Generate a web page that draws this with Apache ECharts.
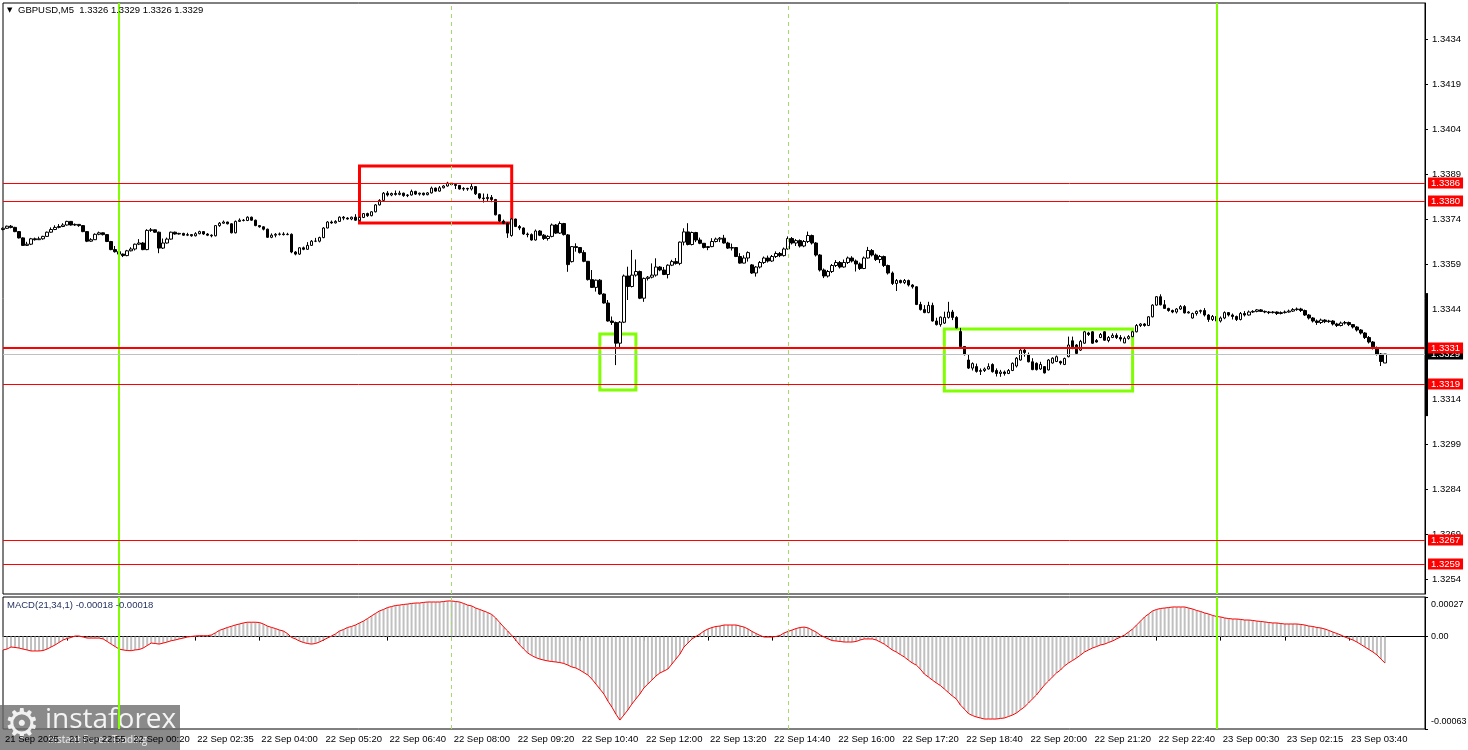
<!DOCTYPE html>
<html><head><meta charset="utf-8">
<script src="https://cdn.jsdelivr.net/npm/echarts@6/dist/echarts.min.js"></script>
<style>html,body{margin:0;padding:0;background:#fff}#c{width:1468px;height:750px}</style>
</head><body><div id="c"></div>
<script>
const FONT = '"Liberation Sans", Arial, sans-serif';
const timeLabels = ["21 Sep 2025","21 Sep 22:55","22 Sep 00:20","22 Sep 02:35","22 Sep 04:00","22 Sep 05:20","22 Sep 06:40","22 Sep 08:00","22 Sep 09:20","22 Sep 10:40","22 Sep 12:00","22 Sep 13:20","22 Sep 14:40","22 Sep 16:00","22 Sep 17:20","22 Sep 18:40","22 Sep 20:00","22 Sep 21:20","22 Sep 22:40","23 Sep 00:30","23 Sep 02:15","23 Sep 03:40"];
const labelStep = 16;
const totalSlots = 356;
const priceTicks = [1.3254,1.3269,1.3284,1.3299,1.3314,1.3329,1.3344,1.3359,1.3374,1.3389,1.3404,1.3419,1.3434];
const macdTicks = [-0.00063, 0, 0.00027];
const levelLines = [1.3386, 1.3380, 1.3331, 1.3319, 1.3267, 1.3259];
const boldLevel = 1.3331;
const currentPrice = 1.3329;
const greenLineBars = [29, 303];
const separatorBars = [112, 196];
const zones = [
  {x0: 89, x1: 127, p0: 1.33917, p1: 1.33727, color: '#ff0000'},
  {x0: 149, x1: 158, p0: 1.33357, p1: 1.33170, color: '#80ff00'},
  {x0: 235, x1: 282, p0: 1.33373, p1: 1.33167, color: '#80ff00'}
];
const rangeBar = [1.33083, 1.33493];
// [open, close, low, high]
const candles = [
[1.33705,1.33709,1.33702,1.33712],[1.33709,1.33716,1.33707,1.33718],[1.33716,1.33712,1.33709,1.33720],[1.33712,1.33698,1.33696,1.33714],[1.33698,1.33677,1.33675,1.33700],
[1.33677,1.33652,1.33650,1.33679],[1.33652,1.33656,1.33650,1.33664],[1.33656,1.33674,1.33653,1.33677],[1.33674,1.33671,1.33668,1.33678],[1.33671,1.33674,1.33670,1.33681],
[1.33674,1.33682,1.33671,1.33684],[1.33682,1.33696,1.33680,1.33698],[1.33696,1.33705,1.33694,1.33712],[1.33705,1.33712,1.33703,1.33719],[1.33712,1.33715,1.33709,1.33723],
[1.33715,1.33720,1.33713,1.33726],[1.33720,1.33732,1.33718,1.33734],[1.33732,1.33720,1.33718,1.33733],[1.33720,1.33722,1.33717,1.33725],[1.33722,1.33718,1.33714,1.33723],
[1.33718,1.33698,1.33696,1.33720],[1.33698,1.33666,1.33663,1.33700],[1.33666,1.33671,1.33664,1.33676],[1.33671,1.33689,1.33670,1.33692],[1.33689,1.33694,1.33686,1.33698],
[1.33694,1.33688,1.33685,1.33695],[1.33688,1.33665,1.33663,1.33690],[1.33665,1.33638,1.33636,1.33667],[1.33638,1.33631,1.33628,1.33650],[1.33631,1.33623,1.33620,1.33633],
[1.33623,1.33618,1.33613,1.33625],[1.33618,1.33634,1.33616,1.33637],[1.33634,1.33640,1.33632,1.33646],[1.33640,1.33656,1.33635,1.33658],[1.33656,1.33660,1.33653,1.33673],
[1.33660,1.33638,1.33636,1.33663],[1.33638,1.33702,1.33636,1.33706],[1.33702,1.33704,1.33697,1.33710],[1.33704,1.33696,1.33694,1.33705],[1.33696,1.33643,1.33626,1.33698],
[1.33643,1.33660,1.33640,1.33675],[1.33660,1.33673,1.33658,1.33678],[1.33673,1.33696,1.33671,1.33698],[1.33696,1.33690,1.33688,1.33698],[1.33690,1.33692,1.33688,1.33694],
[1.33692,1.33686,1.33684,1.33694],[1.33686,1.33688,1.33683,1.33694],[1.33688,1.33684,1.33681,1.33690],[1.33684,1.33691,1.33682,1.33696],[1.33691,1.33698,1.33689,1.33701],
[1.33698,1.33690,1.33687,1.33700],[1.33690,1.33686,1.33683,1.33693],[1.33686,1.33684,1.33679,1.33689],[1.33684,1.33718,1.33682,1.33720],[1.33718,1.33726,1.33714,1.33730],
[1.33726,1.33730,1.33724,1.33735],[1.33730,1.33724,1.33722,1.33731],[1.33724,1.33694,1.33692,1.33726],[1.33694,1.33732,1.33692,1.33735],[1.33732,1.33736,1.33730,1.33742],
[1.33736,1.33735,1.33732,1.33740],[1.33735,1.33746,1.33733,1.33749],[1.33746,1.33736,1.33734,1.33748],[1.33736,1.33718,1.33716,1.33738],[1.33718,1.33714,1.33711,1.33720],
[1.33714,1.33706,1.33702,1.33716],[1.33706,1.33679,1.33677,1.33708],[1.33679,1.33686,1.33676,1.33692],[1.33686,1.33689,1.33679,1.33693],[1.33689,1.33690,1.33685,1.33695],
[1.33690,1.33688,1.33685,1.33696],[1.33688,1.33689,1.33686,1.33694],[1.33689,1.33630,1.33626,1.33692],[1.33630,1.33623,1.33619,1.33633],[1.33623,1.33644,1.33620,1.33646],
[1.33644,1.33639,1.33636,1.33648],[1.33639,1.33652,1.33637,1.33663],[1.33652,1.33666,1.33650,1.33670],[1.33666,1.33666,1.33663,1.33677],[1.33666,1.33678,1.33662,1.33681],
[1.33678,1.33710,1.33676,1.33713],[1.33710,1.33730,1.33709,1.33733],[1.33730,1.33727,1.33724,1.33735],[1.33727,1.33732,1.33725,1.33736],[1.33732,1.33746,1.33730,1.33749],
[1.33746,1.33743,1.33736,1.33750],[1.33743,1.33740,1.33738,1.33746],[1.33740,1.33746,1.33736,1.33748],[1.33746,1.33736,1.33734,1.33756],[1.33736,1.33745,1.33733,1.33748],
[1.33745,1.33758,1.33743,1.33760],[1.33758,1.33751,1.33747,1.33761],[1.33751,1.33764,1.33749,1.33766],[1.33764,1.33787,1.33762,1.33790],[1.33787,1.33802,1.33785,1.33806],
[1.33802,1.33826,1.33800,1.33830],[1.33826,1.33820,1.33815,1.33833],[1.33820,1.33825,1.33816,1.33828],[1.33825,1.33822,1.33818,1.33835],[1.33822,1.33826,1.33819,1.33834],
[1.33826,1.33818,1.33814,1.33828],[1.33818,1.33820,1.33813,1.33823],[1.33820,1.33832,1.33818,1.33838],[1.33832,1.33823,1.33820,1.33834],[1.33823,1.33826,1.33818,1.33828],
[1.33826,1.33821,1.33818,1.33828],[1.33821,1.33827,1.33819,1.33830],[1.33827,1.33843,1.33825,1.33848],[1.33843,1.33833,1.33831,1.33845],[1.33833,1.33844,1.33831,1.33850],
[1.33844,1.33850,1.33842,1.33853],[1.33850,1.33860,1.33848,1.33864],[1.33860,1.33855,1.33852,1.33863],[1.33855,1.33852,1.33840,1.33858],[1.33852,1.33840,1.33838,1.33853],
[1.33840,1.33842,1.33834,1.33846],[1.33842,1.33840,1.33834,1.33844],[1.33840,1.33848,1.33835,1.33860],[1.33848,1.33824,1.33820,1.33850],[1.33824,1.33810,1.33806,1.33826],
[1.33810,1.33808,1.33795,1.33825],[1.33808,1.33812,1.33798,1.33824],[1.33812,1.33805,1.33796,1.33820],[1.33805,1.33754,1.33752,1.33807],[1.33754,1.33733,1.33730,1.33756],
[1.33733,1.33726,1.33723,1.33738],[1.33726,1.33693,1.33677,1.33728],[1.33685,1.33740,1.33681,1.33743],[1.33740,1.33715,1.33713,1.33741],[1.33715,1.33710,1.33703,1.33720],
[1.33710,1.33690,1.33687,1.33712],[1.33690,1.33688,1.33679,1.33695],[1.33688,1.33670,1.33668,1.33692],[1.33670,1.33700,1.33668,1.33705],[1.33700,1.33686,1.33683,1.33703],
[1.33686,1.33675,1.33670,1.33690],[1.33675,1.33682,1.33668,1.33686],[1.33682,1.33720,1.33679,1.33725],[1.33720,1.33693,1.33690,1.33723],[1.33693,1.33725,1.33690,1.33732],
[1.33725,1.33688,1.33685,1.33727],[1.33687,1.33588,1.33564,1.33690],[1.33598,1.33648,1.33595,1.33650],[1.33648,1.33645,1.33631,1.33659],[1.33645,1.33628,1.33625,1.33646],
[1.33628,1.33599,1.33596,1.33636],[1.33599,1.33538,1.33535,1.33600],[1.33538,1.33512,1.33510,1.33570],[1.33512,1.33536,1.33498,1.33538],[1.33536,1.33490,1.33487,1.33540],
[1.33490,1.33460,1.33458,1.33492],[1.33460,1.33400,1.33398,1.33470],[1.33400,1.33395,1.33387,1.33415],[1.33395,1.33326,1.33253,1.33398],[1.33326,1.33396,1.33309,1.33400],
[1.33396,1.33550,1.33393,1.33555],[1.33550,1.33515,1.33470,1.33581],[1.33515,1.33553,1.33512,1.33637],[1.33553,1.33565,1.33548,1.33605],[1.33565,1.33476,1.33473,1.33568],
[1.33476,1.33542,1.33464,1.33545],[1.33542,1.33546,1.33535,1.33550],[1.33546,1.33553,1.33542,1.33592],[1.33553,1.33580,1.33548,1.33609],[1.33580,1.33570,1.33566,1.33583],
[1.33570,1.33555,1.33553,1.33580],[1.33555,1.33586,1.33542,1.33589],[1.33586,1.33598,1.33583,1.33604],[1.33598,1.33592,1.33588,1.33610],[1.33592,1.33663,1.33586,1.33665],
[1.33663,1.33697,1.33652,1.33709],[1.33697,1.33655,1.33652,1.33726],[1.33655,1.33695,1.33652,1.33698],[1.33695,1.33670,1.33663,1.33697],[1.33670,1.33659,1.33656,1.33678],
[1.33659,1.33645,1.33642,1.33660],[1.33645,1.33648,1.33636,1.33650],[1.33648,1.33665,1.33646,1.33676],[1.33665,1.33673,1.33662,1.33678],[1.33673,1.33676,1.33663,1.33680],
[1.33676,1.33660,1.33658,1.33687],[1.33660,1.33643,1.33640,1.33664],[1.33643,1.33645,1.33635,1.33658],[1.33645,1.33615,1.33613,1.33646],[1.33615,1.33593,1.33591,1.33626],
[1.33593,1.33610,1.33592,1.33619],[1.33610,1.33628,1.33598,1.33632],[1.33587,1.33560,1.33557,1.33590],[1.33560,1.33580,1.33548,1.33583],[1.33580,1.33595,1.33575,1.33600],
[1.33595,1.33610,1.33590,1.33615],[1.33610,1.33600,1.33595,1.33618],[1.33600,1.33615,1.33597,1.33620],[1.33615,1.33625,1.33610,1.33632],[1.33625,1.33618,1.33613,1.33630],
[1.33618,1.33640,1.33615,1.33645],[1.33640,1.33675,1.33638,1.33682],[1.33675,1.33660,1.33655,1.33680],[1.33660,1.33668,1.33650,1.33673],[1.33668,1.33650,1.33645,1.33672],
[1.33650,1.33665,1.33646,1.33670],[1.33665,1.33685,1.33660,1.33698],[1.33685,1.33660,1.33655,1.33688],[1.33660,1.33620,1.33615,1.33663],[1.33620,1.33570,1.33565,1.33623],
[1.33570,1.33550,1.33543,1.33575],[1.33550,1.33565,1.33545,1.33570],[1.33565,1.33585,1.33560,1.33590],[1.33585,1.33595,1.33580,1.33603],[1.33595,1.33580,1.33575,1.33600],
[1.33580,1.33595,1.33578,1.33605],[1.33595,1.33610,1.33590,1.33615],[1.33610,1.33600,1.33595,1.33616],[1.33600,1.33590,1.33565,1.33605],[1.33590,1.33575,1.33570,1.33595],
[1.33575,1.33610,1.33573,1.33615],[1.33610,1.33635,1.33608,1.33647],[1.33635,1.33620,1.33615,1.33640],[1.33620,1.33605,1.33600,1.33625],[1.33605,1.33615,1.33593,1.33620],
[1.33615,1.33585,1.33580,1.33618],[1.33585,1.33560,1.33555,1.33588],[1.33560,1.33525,1.33520,1.33565],[1.33525,1.33535,1.33500,1.33540],[1.33535,1.33528,1.33525,1.33538],
[1.33528,1.33535,1.33523,1.33540],[1.33535,1.33520,1.33515,1.33538],[1.33520,1.33514,1.33508,1.33523],[1.33514,1.33455,1.33453,1.33516],[1.33455,1.33438,1.33435,1.33464],
[1.33438,1.33428,1.33426,1.33453],[1.33428,1.33452,1.33426,1.33464],[1.33452,1.33400,1.33398,1.33461],[1.33400,1.33388,1.33385,1.33411],[1.33388,1.33413,1.33381,1.33415],
[1.33393,1.33412,1.33390,1.33431],[1.33412,1.33430,1.33408,1.33464],[1.33430,1.33412,1.33403,1.33437],[1.33412,1.33377,1.33375,1.33416],[1.33365,1.33315,1.33313,1.33377],
[1.33315,1.33288,1.33285,1.33316],[1.33270,1.33243,1.33240,1.33288],[1.33243,1.33258,1.33235,1.33262],[1.33248,1.33232,1.33228,1.33258],[1.33232,1.33235,1.33220,1.33242],
[1.33235,1.33240,1.33230,1.33245],[1.33240,1.33248,1.33238,1.33259],[1.33255,1.33231,1.33228,1.33259],[1.33235,1.33225,1.33215,1.33242],[1.33225,1.33230,1.33214,1.33237],
[1.33230,1.33225,1.33218,1.33235],[1.33225,1.33235,1.33223,1.33240],[1.33235,1.33259,1.33233,1.33262],[1.33250,1.33276,1.33245,1.33280],[1.33270,1.33303,1.33268,1.33306],
[1.33303,1.33295,1.33281,1.33308],[1.33287,1.33264,1.33262,1.33295],[1.33264,1.33238,1.33236,1.33276],[1.33259,1.33238,1.33235,1.33262],[1.33240,1.33255,1.33237,1.33264],
[1.33248,1.33227,1.33225,1.33250],[1.33237,1.33270,1.33235,1.33273],[1.33260,1.33276,1.33258,1.33279],[1.33265,1.33281,1.33263,1.33285],[1.33265,1.33260,1.33254,1.33268],
[1.33255,1.33275,1.33253,1.33278],[1.33281,1.33320,1.33279,1.33348],[1.33334,1.33312,1.33306,1.33348],[1.33320,1.33292,1.33290,1.33323],[1.33303,1.33332,1.33300,1.33337],
[1.33326,1.33364,1.33324,1.33367],[1.33360,1.33355,1.33350,1.33364],[1.33364,1.33326,1.33324,1.33366],[1.33335,1.33330,1.33328,1.33340],[1.33345,1.33355,1.33343,1.33360],
[1.33364,1.33336,1.33334,1.33366],[1.33335,1.33345,1.33329,1.33350],[1.33345,1.33352,1.33343,1.33359],[1.33352,1.33345,1.33340,1.33359],[1.33345,1.33340,1.33332,1.33353],
[1.33327,1.33342,1.33326,1.33348],[1.33342,1.33348,1.33338,1.33353],[1.33348,1.33364,1.33346,1.33367],[1.33364,1.33385,1.33362,1.33390],[1.33385,1.33390,1.33380,1.33393],
[1.33390,1.33385,1.33381,1.33393],[1.33385,1.33414,1.33383,1.33416],[1.33414,1.33453,1.33412,1.33456],[1.33453,1.33481,1.33451,1.33483],[1.33481,1.33454,1.33452,1.33489],
[1.33454,1.33442,1.33440,1.33470],[1.33442,1.33435,1.33431,1.33444],[1.33435,1.33430,1.33426,1.33438],[1.33430,1.33440,1.33425,1.33443],[1.33440,1.33448,1.33437,1.33453],
[1.33448,1.33427,1.33425,1.33453],[1.33427,1.33430,1.33425,1.33433],[1.33410,1.33425,1.33408,1.33428],[1.33425,1.33432,1.33418,1.33435],[1.33432,1.33435,1.33425,1.33438],
[1.33435,1.33420,1.33415,1.33443],[1.33420,1.33405,1.33397,1.33423],[1.33405,1.33415,1.33400,1.33420],[1.33415,1.33400,1.33387,1.33418],[1.33400,1.33410,1.33395,1.33415],
[1.33410,1.33428,1.33406,1.33432],[1.33428,1.33420,1.33415,1.33430],[1.33420,1.33415,1.33405,1.33425],[1.33415,1.33405,1.33400,1.33418],[1.33405,1.33425,1.33402,1.33430],
[1.33425,1.33420,1.33415,1.33433],[1.33420,1.33430,1.33418,1.33435],[1.33430,1.33432,1.33427,1.33436],[1.33432,1.33437,1.33429,1.33440],[1.33437,1.33432,1.33430,1.33440],
[1.33432,1.33430,1.33426,1.33435],[1.33430,1.33428,1.33423,1.33433],[1.33428,1.33430,1.33425,1.33433],[1.33430,1.33425,1.33420,1.33432],[1.33425,1.33428,1.33422,1.33432],
[1.33428,1.33430,1.33425,1.33435],[1.33430,1.33433,1.33428,1.33438],[1.33433,1.33438,1.33430,1.33443],[1.33438,1.33440,1.33434,1.33445],[1.33440,1.33435,1.33430,1.33444],
[1.33435,1.33420,1.33417,1.33438],[1.33420,1.33410,1.33405,1.33423],[1.33410,1.33400,1.33395,1.33413],[1.33400,1.33395,1.33387,1.33405],[1.33395,1.33403,1.33390,1.33408],
[1.33403,1.33398,1.33393,1.33406],[1.33398,1.33400,1.33394,1.33404],[1.33400,1.33390,1.33385,1.33403],[1.33390,1.33385,1.33380,1.33394],[1.33385,1.33393,1.33382,1.33398],
[1.33393,1.33395,1.33388,1.33400],[1.33395,1.33388,1.33383,1.33398],[1.33388,1.33380,1.33375,1.33390],[1.33380,1.33370,1.33365,1.33383],[1.33370,1.33360,1.33355,1.33373],
[1.33360,1.33345,1.33340,1.33363],[1.33345,1.33330,1.33325,1.33350],[1.33330,1.33310,1.33305,1.33333],[1.33310,1.33290,1.33285,1.33315],[1.33290,1.33265,1.33250,1.33293],
[1.33260,1.33290,1.33260,1.33290]
];
const macd = [
-9.1e-5,-8.5e-5,-7.1e-5,-7.4e-5,-7.8e-5,-8.5e-5,-9.1e-5,-9.8e-5,-9.8e-5,-9.8e-5,
-9.5e-5,-8.5e-5,-7.1e-5,-5.7e-5,-4.0e-5,-2.3e-5,-1.3e-5,-0.6e-5,0.4e-5,0.4e-5,
-0.3e-5,-1.0e-5,-1.0e-5,-1.0e-5,-1.0e-5,-1.6e-5,-3.3e-5,-5.1e-5,-6.8e-5,-8.5e-5,
-9.1e-5,-9.5e-5,-9.6e-5,-9.1e-5,-8.8e-5,-7.8e-5,-6.1e-5,-4.4e-5,-4.7e-5,-5.1e-5,
-4.4e-5,-3.7e-5,-2.8e-5,-2.3e-5,-1.6e-5,-1.0e-5,-0.3e-5,0.1e-5,0.4e-5,0.6e-5,
0.6e-5,0.6e-5,1.1e-5,2.5e-5,4.2e-5,5.2e-5,6.2e-5,7.0e-5,7.9e-5,8.6e-5,
9.3e-5,9.8e-5,9.8e-5,9.8e-5,9.6e-5,8.6e-5,7.2e-5,6.3e-5,5.5e-5,4.5e-5,
3.8e-5,2.1e-5,-0.5e-5,-1.6e-5,-3.0e-5,-4.0e-5,-4.7e-5,-5.1e-5,-4.7e-5,-3.7e-5,
-2.3e-5,-1.0e-5,0.4e-5,1.8e-5,3.8e-5,4.8e-5,6.2e-5,6.9e-5,7.9e-5,9.3e-5,
10.6e-5,12.3e-5,14.1e-5,15.8e-5,17.5e-5,18.5e-5,19.8e-5,20.5e-5,21.2e-5,21.5e-5,
21.9e-5,22.2e-5,22.6e-5,22.9e-5,22.9e-5,23.3e-5,23.6e-5,23.6e-5,23.6e-5,23.6e-5,
23.9e-5,24.3e-5,24.3e-5,23.9e-5,23.6e-5,22.6e-5,21.5e-5,20.9e-5,19.5e-5,18.5e-5,
17.5e-5,16.4e-5,15.1e-5,12.7e-5,9.6e-5,6.5e-5,3.8e-5,0.8e-5,-2.3e-5,-5.7e-5,
-8.5e-5,-11.2e-5,-12.9e-5,-14.3e-5,-15.3e-5,-16.0e-5,-16.6e-5,-17.0e-5,-17.3e-5,-17.7e-5,
-18.3e-5,-19.4e-5,-20.7e-5,-21.4e-5,-22.8e-5,-24.5e-5,-26.2e-5,-28.9e-5,-32.3e-5,-35.7e-5,
-39.1e-5,-43.9e-5,-48.0e-5,-52.8e-5,-56.9e-5,-53.5e-5,-50.0e-5,-46.0e-5,-42.5e-5,-39.1e-5,
-35.0e-5,-32.3e-5,-29.6e-5,-26.9e-5,-24.8e-5,-23.5e-5,-22.1e-5,-18.7e-5,-15.3e-5,-11.9e-5,
-7.1e-5,-4.4e-5,-1.6e-5,0.1e-5,1.8e-5,3.8e-5,5.2e-5,6.2e-5,6.9e-5,7.2e-5,
7.9e-5,7.9e-5,7.9e-5,7.9e-5,7.2e-5,6.5e-5,5.2e-5,3.5e-5,2.1e-5,0.8e-5,
-0.3e-5,-0.3e-5,-0.3e-5,0.1e-5,0.8e-5,2.5e-5,3.5e-5,4.5e-5,5.5e-5,6.2e-5,
6.5e-5,5.9e-5,4.5e-5,3.1e-5,1.1e-5,-0.3e-5,-1.6e-5,-2.7e-5,-3.0e-5,-3.3e-5,
-3.7e-5,-3.7e-5,-3.7e-5,-3.3e-5,-2.3e-5,-1.6e-5,-1.6e-5,-1.6e-5,-2.3e-5,-3.7e-5,
-5.1e-5,-7.1e-5,-9.1e-5,-10.5e-5,-12.2e-5,-13.9e-5,-16.0e-5,-18.0e-5,-19.4e-5,-22.1e-5,
-25.5e-5,-27.5e-5,-29.6e-5,-31.6e-5,-33.3e-5,-35.7e-5,-38.1e-5,-40.5e-5,-42.5e-5,-46.6e-5,
-49.4e-5,-52.4e-5,-53.8e-5,-54.8e-5,-55.5e-5,-56.2e-5,-56.2e-5,-56.2e-5,-56.2e-5,-55.8e-5,
-55.5e-5,-54.5e-5,-53.5e-5,-52.1e-5,-50.0e-5,-48.0e-5,-45.3e-5,-42.5e-5,-39.8e-5,-36.4e-5,
-33.0e-5,-30.3e-5,-27.5e-5,-24.8e-5,-22.8e-5,-20.0e-5,-18.0e-5,-16.3e-5,-14.6e-5,-12.6e-5,
-10.5e-5,-9.1e-5,-7.8e-5,-6.8e-5,-5.7e-5,-5.1e-5,-4.0e-5,-3.0e-5,-1.6e-5,-0.3e-5,
1.1e-5,3.1e-5,5.2e-5,7.9e-5,10.6e-5,13.4e-5,15.4e-5,17.5e-5,18.5e-5,19.2e-5,
19.5e-5,19.8e-5,20.2e-5,20.2e-5,20.2e-5,20.2e-5,19.5e-5,18.8e-5,17.8e-5,17.1e-5,
16.1e-5,15.4e-5,14.4e-5,13.7e-5,13.4e-5,12.7e-5,12.3e-5,12.0e-5,12.0e-5,11.7e-5,
11.3e-5,11.3e-5,11.0e-5,10.6e-5,10.3e-5,10.0e-5,9.6e-5,9.3e-5,9.3e-5,8.9e-5,
8.6e-5,8.6e-5,8.6e-5,8.6e-5,8.3e-5,7.9e-5,7.2e-5,6.9e-5,6.2e-5,5.9e-5,
5.2e-5,4.2e-5,3.1e-5,2.1e-5,1.1e-5,-0.3e-5,-1.3e-5,-2.3e-5,-3.7e-5,-5.4e-5,
-7.1e-5,-8.8e-5,-10.5e-5,-12.5e-5,-15.3e-5,-18.0e-5
];

const cats = Array.from({length: totalSlots}, (_, i) => String(i));
const showLabel = (i) => i % labelStep === 0 && (i / labelStep) < timeLabels.length;

const boxLabel = (txt, bg) => ({
  show: true, position: 'end', formatter: txt, distance: 3,
  color: '#fff', backgroundColor: bg, padding: [1, 3, 0, 3],
  fontSize: 9.5, fontFamily: FONT
});

const vLines = [
  ...greenLineBars.map(b => ({xAxis: String(b), lineStyle: {color: '#80ff00', width: 2, type: 'solid'}, label: {show: false}})),
  ...separatorBars.map(b => ({xAxis: String(b), lineStyle: {color: '#a6d96a', width: 1, type: [4, 4]}, label: {show: false}}))
];

const hLines = [
  {yAxis: currentPrice, lineStyle: {color: '#c0c0c0', width: 1, type: 'solid'}, label: boxLabel(currentPrice.toFixed(4), '#000')},
  ...levelLines.map(v => ({yAxis: v, lineStyle: {color: '#ff0000', width: v === boldLevel ? 2 : 1, type: 'solid'}, label: boxLabel(v.toFixed(4), '#ff0000')}))
];

const option = {
  animation: false,
  backgroundColor: '#fff',
  textStyle: {fontFamily: FONT},
  grid: [
    {left: 3, right: 43, top: 3, height: 591, show: true, borderColor: '#000', borderWidth: 1, backgroundColor: '#fff', outerBoundsMode: 'none', containLabel: false},
    {left: 3, right: 43, top: 597, height: 132, show: true, borderColor: '#000', borderWidth: 1, backgroundColor: '#fff', outerBoundsMode: 'none', containLabel: false}
  ],
  xAxis: [
    {type: 'category', gridIndex: 0, data: cats, boundaryGap: false, show: false},
    {type: 'category', gridIndex: 1, data: cats, boundaryGap: false,
     axisLine: {show: true, lineStyle: {color: '#000', width: 1}},
     axisTick: {show: true, interval: showLabel, length: 4, lineStyle: {color: '#000'}},
     axisLabel: {show: true, interval: showLabel, align: 'left', margin: 5, color: '#000', fontSize: 9.5, fontFamily: FONT,
       padding: [0, 0, 0, 2],
       formatter: (v, idx) => timeLabels[idx / labelStep] || ''},
     splitLine: {show: false}}
  ],
  yAxis: [
    {type: 'value', gridIndex: 0, position: 'right', min: 1.3249, max: 1.3446,
     axisLine: {show: true, lineStyle: {color: '#000'}},
     axisTick: {show: true, customValues: priceTicks, length: 3, lineStyle: {color: '#000'}},
     axisLabel: {show: true, customValues: priceTicks, margin: 7, color: '#000', fontSize: 9.5, fontFamily: FONT, formatter: v => v.toFixed(4)},
     splitLine: {show: false}},
    {type: 'value', gridIndex: 1, position: 'right', min: -0.00063, max: 0.00027,
     axisLine: {show: true, lineStyle: {color: '#000'}},
     axisTick: {show: true, customValues: macdTicks, length: 3, lineStyle: {color: '#000'}},
     axisLabel: {show: true, customValues: macdTicks, margin: 6, color: '#000', fontSize: 9, fontFamily: FONT,
       formatter: v => v === 0 ? '{z|0.00}' : (v > 0 ? '{t|' + v.toFixed(5) + '}' : '{b|' + v.toFixed(5) + '}'),
       rich: {
         t: {padding: [16, 0, 0, 0], color: '#000', fontSize: 9, fontFamily: FONT},
         b: {padding: [0, 0, 15, 0], color: '#000', fontSize: 9, fontFamily: FONT},
         z: {color: '#000', fontSize: 9, fontFamily: FONT}
       }},
     splitLine: {show: false}}
  ],
  series: [
    {type: 'candlestick', name: 'GBPUSD', xAxisIndex: 0, yAxisIndex: 0, data: candles, barWidth: 3,
     itemStyle: {color: '#fff', color0: '#000', borderColor: '#000', borderColor0: '#000', borderColorDoji: '#000', borderWidth: 1},
     markLine: {silent: true, symbol: ['none', 'none'], precision: 6, animation: false, data: [...vLines, ...hLines]},
     markArea: {silent: true, animation: false,
       data: zones.map(z => [
         {xAxis: String(z.x0), yAxis: z.p0, itemStyle: {color: 'rgba(0,0,0,0)', borderColor: z.color, borderWidth: 3}},
         {xAxis: String(z.x1), yAxis: z.p1}
       ])}
    },
    {type: 'bar', name: 'MACD', xAxisIndex: 1, yAxisIndex: 1, data: macd, barWidth: 2,
     itemStyle: {color: '#c0c0c0'},
     markLine: {silent: true, symbol: ['none', 'none'], precision: 6, animation: false, data: vLines}},
    {type: 'line', name: 'Signal', xAxisIndex: 1, yAxisIndex: 1, data: macd, symbol: 'none',
     lineStyle: {color: '#ff0000', width: 1}}
  ]
};

const chart = echarts.init(document.getElementById('c'), null, {renderer: 'canvas'});
chart.setOption(option);

const yTop = chart.convertToPixel({yAxisIndex: 0}, rangeBar[1]);
const yBot = chart.convertToPixel({yAxisIndex: 0}, rangeBar[0]);
chart.setOption({
  graphic: [
    {type: 'rect', z: 50, shape: {x: 1425, y: yTop, width: 3, height: yBot - yTop}, style: {fill: '#000'}},
    {type: 'text', z: 50, left: 7, top: 7, style: {text: '\u25BC', fontSize: 7, fill: '#000', fontFamily: 'DejaVu Sans'}},
    {type: 'text', z: 50, left: 18, top: 5, style: {text: 'GBPUSD,M5  1.3326 1.3329 1.3326 1.3329', fontSize: 9.5, fill: '#000', fontFamily: FONT}},
    {type: 'text', z: 50, left: 7, top: 600, style: {text: 'MACD(21,34,1) -0.00018 -0.00018', fontSize: 9.5, fill: '#1e2c5a', fontFamily: FONT}},
    {type: 'group', z: 60, children: [
      {type: 'rect', shape: {x: 0, y: 705, width: 180, height: 45}, style: {fill: 'rgba(105,105,105,0.78)'}},
      {type: 'text', style: {x: 4, y: 707, text: '\u2699', fontSize: 40, fill: 'rgba(255,255,255,0.88)', fontFamily: 'DejaVu Sans'}},
      {type: 'text', style: {x: 45, y: 706, text: 'instaforex', fontSize: 28, fill: 'rgba(255,255,255,0.9)', fontFamily: '"Open Sans", sans-serif'}},
      {type: 'text', style: {x: 48, y: 735, text: 'Instant Forex Trading', fontSize: 10, fill: 'rgba(255,255,255,0.85)', fontFamily: '"Open Sans", sans-serif'}}
    ]}
  ]
});
</script>
</body></html>
